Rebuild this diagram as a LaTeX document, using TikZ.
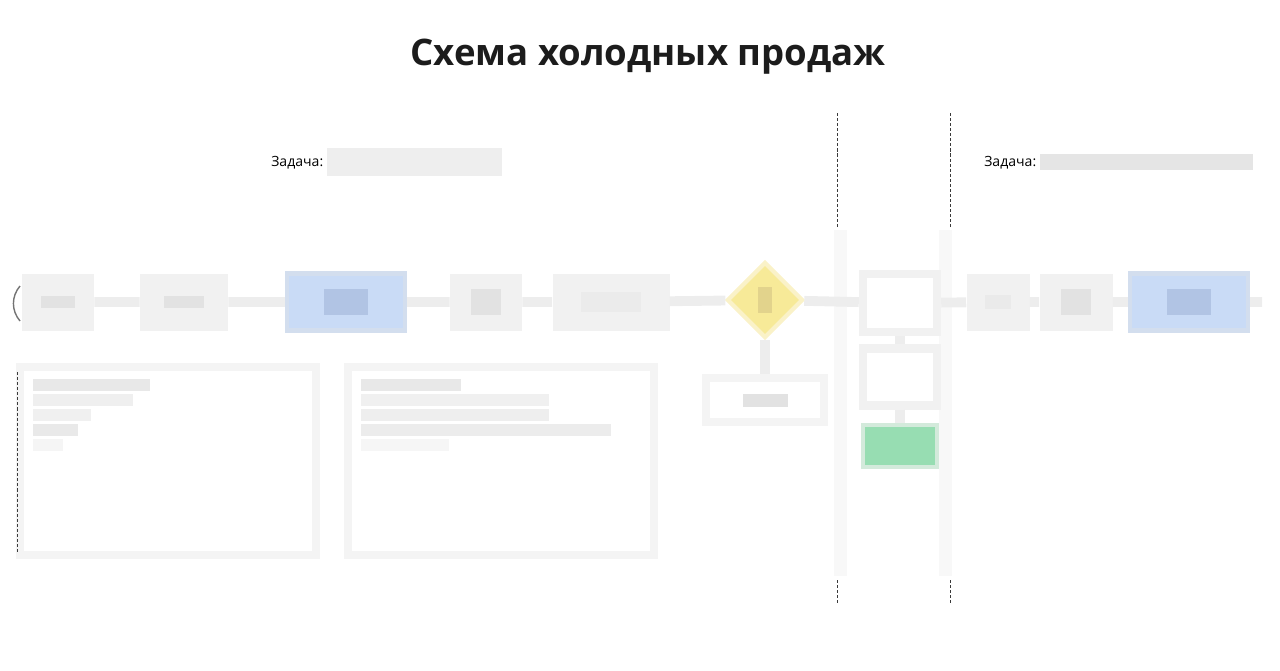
\documentclass[tikz,border=0pt]{standalone}
\usepackage{fontspec}
\setmainfont{Open Sans}
\usetikzlibrary{shapes.geometric}
\definecolor{titleblack}{HTML}{1C1C1C}
\definecolor{boxgray}{HTML}{F1F1F1}
\definecolor{blotgray}{HTML}{E2E2E2}
\definecolor{bluefill}{HTML}{C9DBF6}
\definecolor{blueedge}{HTML}{D3DEEE}
\definecolor{blueblot}{HTML}{B1C4E4}
\definecolor{yellowfill}{HTML}{F7EA98}
\definecolor{yellowedge}{HTML}{FAF2C8}
\definecolor{yellowblot}{HTML}{E2D38C}
\definecolor{greenfill}{HTML}{97DDB2}
\definecolor{greenedge}{HTML}{D3EADB}
\definecolor{rowgray}{HTML}{EDEDED}
\definecolor{lanegray}{HTML}{F8F8F8}
\definecolor{framegray}{HTML}{F4F4F4}
\definecolor{dashgray}{HTML}{3A3A3A}
\newlength{\pxl}\setlength{\pxl}{0.025cm}
\newcommand{\blot}[3][blotgray]{{\color{#1}\rule{#2\pxl}{#3\pxl}}}

\begin{document}
\begin{tikzpicture}[x=0.025cm,y=-0.025cm,
  sz/.style 2 args={minimum width=#1*0.025cm,minimum height=#2*0.025cm},
  gbox/.style={rectangle,inner sep=0pt,fill=boxgray},
  bbox/.style={rectangle,inner sep=0pt,fill=bluefill,draw=blueedge,line width=3pt},
  lanebox/.style={rectangle,inner sep=0pt,fill=white,draw=boxgray,line width=6pt},
  frame/.style={rectangle,inner sep=0pt,fill=white,draw=framegray,line width=6pt},
  decision/.style={diamond,inner sep=0pt,fill=yellowfill,draw=yellowedge,line width=3pt},
  donebox/.style={rectangle,inner sep=0pt,fill=greenfill,draw=greenedge,line width=3pt},
  row/.style={rowgray,line width=7pt},
  lanedash/.style={dashgray,line width=0.6pt,dash pattern=on 2.2pt off 1.4pt},
  task/.style={anchor=west,inner sep=0pt,font=\fontsize{10}{12}\selectfont},
  bar/.style={rectangle,inner sep=0pt,anchor=west}]
  \useasboundingbox (0,0) rectangle (1280,670);
  \node[font=\bfseries\fontsize{26}{30}\selectfont,text=titleblack] (title) at (648,57) {Схема холодных продаж};
   % lanes
   \fill[lanegray] (834,230) rectangle (847,576);
   \fill[lanegray] (939,230) rectangle (952,576);
   \draw[lanedash] (837,113) -- (837,228);
   \draw[lanedash] (837,580) -- (837,605);
   \draw[lanedash] (950,113) -- (950,228);
   \draw[lanedash] (950,580) -- (950,605);
  \node[task] (task1) at (271,163) {Задача:};
  \node[bar,fill=blotgray!60,sz={175}{28}] (goal1) at (327,162) {};
  \node[task] (task2) at (984,163) {Задача:};
  \node[bar,fill=blotgray!90,sz={213}{16}] (goal2) at (1040,162) {};
   % main row
  \node[gbox,sz={72}{57}] (a1) at (58,302) {\blot{34}{12}};
  \node[gbox,sz={88}{57}] (a2) at (184,302) {\blot{40}{12}};
  \node[bbox,sz={118}{57}] (a3) at (346,302) {\blot[blueblot]{44}{26}};
  \node[gbox,sz={72}{57}] (a4) at (486,302) {\blot{30}{26}};
  \node[gbox,sz={117}{57}] (a5) at (611,302) {\blot[boxgray!60!blotgray]{60}{20}};
  \node[decision,sz={76}{76}] (d1) at (765,300) {\blot[yellowblot]{14}{26}};
  \node[lanebox,sz={74}{58}] (a6) at (900,303) {};
  \node[gbox,sz={63}{57}] (a7) at (998,302) {\blot[boxgray!50!blotgray]{26}{14}};
  \node[gbox,sz={73}{57}] (a8) at (1076,302) {\blot{30}{26}};
  \node[bbox,sz={118}{57}] (a9) at (1189,302) {\blot[blueblot]{44}{26}};
  \coordinate (rowend) at (1262,302);
  \draw[line width=1pt,black!55] (20,286) to[bend right=40] (20,321);
  \draw[row] (a1) -- (a2) -- (a3) -- (a4) -- (a5) -- (d1) -- (a6) -- (a7) -- (a8) -- (a9) -- (rowend);
   % below the decision
  \node[frame,sz={118}{44}] (c1) at (765,400) {\blot{45}{13}};
  \draw[row] (d1) -- (c1);
  \node[lanebox,sz={74}{57}] (b1) at (900,377) {};
  \node[donebox,sz={74}{42}] (g1) at (900,446) {};
  \draw[row] (a6) -- (b1);
  \draw[row] (b1) -- (g1);
   % notes
  \node[frame,sz={296}{188}] (n1) at (168,461) {};
  \node[frame,sz={306}{188}] (n2) at (501,461) {};
  \draw[lanedash] (17,372) -- (17,552);
  \foreach \y/\l/\c in {385/117/78,400/100/55,415/58/50,430/45/75,445/30/35}
    \fill[blotgray!\c!white] (33,{\y-6}) rectangle ({33+\l},{\y+6});
  \foreach \y/\l/\c in {385/100/80,400/188/50,415/188/60,430/250/65,445/88/30}
    \fill[blotgray!\c!white] (361,{\y-6}) rectangle ({361+\l},{\y+6});
\end{tikzpicture}
\end{document}
